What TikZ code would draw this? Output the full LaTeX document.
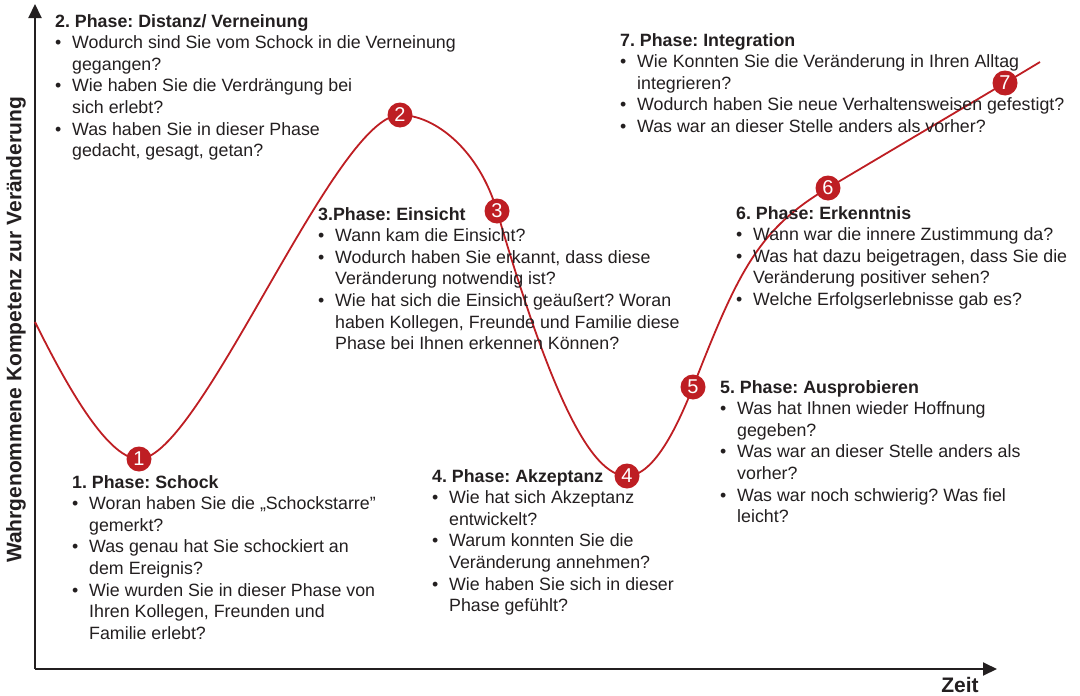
\documentclass[tikz,border=0pt]{standalone}
\usepackage{fontspec}
\setmainfont{Liberation Sans}
\usetikzlibrary{arrows.meta}
\definecolor{curvered}{RGB}{190,30,35}
\definecolor{textgray}{RGB}{35,31,32}
\newcommand{\bul}{\makebox[17pt][l]{\textbullet}}
\newcommand{\ind}{\hspace*{17pt}}
\frenchspacing
\begin{document}
\begin{tikzpicture}[x=1pt, y=-1pt, font=\fontsize{17.8}{21.6}\selectfont,
    every node/.style={text=textgray},
    phase/.style={anchor=north west, align=left, inner sep=0pt},
    phasenum/.style={circle, fill=curvered, minimum size=25pt, inner sep=0pt, text=white, font=\fontsize{20}{20}\selectfont},
    axis/.style={line width=2pt, textgray, -{Triangle[length=14pt, width=13pt]}}]
    \useasboundingbox (0,0) rectangle (1080,696);
    % axes
    \coordinate (o) at (35,669);
    \coordinate (ytop) at (35,4);
    \coordinate (xend) at (997,669);
    \draw[axis] (o) -- (ytop);
    \draw[axis] (o) -- (xend);
    \node[rotate=90, font=\fontsize{21}{21}\selectfont\bfseries] (ylab) at (16,330) {Wahrgenommene Kompetenz zur Veränderung};
    \node[font=\fontsize{21}{21}\selectfont\bfseries] (zeit) at (960,685) {Zeit};
    % phase markers
    \coordinate (m1) at (139,459);
    \coordinate (m2) at (400,115);
    \coordinate (m3) at (497,211);
    \coordinate (m4) at (627,476);
    \coordinate (m5) at (693,387);
    \coordinate (m6) at (828,188);
    \coordinate (m7) at (1005,83);
    \draw[curvered, line width=1.8pt] (35,322) .. controls (60,372) and (105,459) .. (m1)
        .. controls (200,459) and (335,115) .. (m2)
        .. controls (435,115) and (479,150) .. (m3)
        .. controls (550,392) and (590,476) .. (m4)
        .. controls (655,476) and (679,422) .. (m5)
        .. controls (738,272) and (758,229.5) .. (m6) -- (m7) -- (1040,62);
    \foreach \i in {1,...,7}
        \node[phasenum] (n\i) at (m\i) {\i};
    % texts
    \node[phase] (p2) at (55,14) {\textbf{2. Phase: Distanz/ Verneinung}\\
        \bul Wodurch sind Sie vom Schock in die Verneinung\\ \ind gegangen?\\
        \bul Wie haben Sie die Verdrängung bei\\ \ind sich erlebt?\\
        \bul Was haben Sie in dieser Phase\\ \ind gedacht, gesagt, getan?};
    \node[phase] (p7) at (620,33) {\textbf{7. Phase: Integration}\\
        \bul Wie Konnten Sie die Veränderung in Ihren Alltag\\ \ind integrieren?\\
        \bul Wodurch haben Sie neue Verhaltensweisen gefestigt?\\
        \bul Was war an dieser Stelle anders als vorher?};
    \node[phase] (p3) at (318,207) {\textbf{3.Phase: Einsicht}\\
        \bul Wann kam die Einsicht?\\
        \bul Wodurch haben Sie erkannt, dass diese\\ \ind Veränderung notwendig ist?\\
        \bul Wie hat sich die Einsicht geäußert? Woran\\ \ind haben Kollegen, Freunde und Familie diese\\ \ind Phase bei Ihnen erkennen Können?};
    \node[phase] (p6) at (736,206) {\textbf{6. Phase: Erkenntnis}\\
        \bul Wann war die innere Zustimmung da?\\
        \bul Was hat dazu beigetragen, dass Sie die\\ \ind Veränderung positiver sehen?\\
        \bul Welche Erfolgserlebnisse gab es?};
    \node[phase] (p5) at (720,380) {\textbf{5. Phase: Ausprobieren}\\
        \bul Was hat Ihnen wieder Hoffnung\\ \ind gegeben?\\
        \bul Was war an dieser Stelle anders als\\ \ind vorher?\\
        \bul Was war noch schwierig? Was fiel\\ \ind leicht?};
    \node[phase] (p1) at (72,475) {\textbf{1. Phase: Schock}\\
        \bul Woran haben Sie die „Schockstarre”\\ \ind gemerkt?\\
        \bul Was genau hat Sie schockiert an\\ \ind dem Ereignis?\\
        \bul Wie wurden Sie in dieser Phase von\\ \ind Ihren Kollegen, Freunden und\\ \ind Familie erlebt?};
    \node[phase] (p4) at (432,469) {\textbf{4. Phase: Akzeptanz}\\
        \bul Wie hat sich Akzeptanz\\ \ind entwickelt?\\
        \bul Warum konnten Sie die\\ \ind Veränderung annehmen?\\
        \bul Wie haben Sie sich in dieser\\ \ind Phase gefühlt?};
\end{tikzpicture}
\end{document}
